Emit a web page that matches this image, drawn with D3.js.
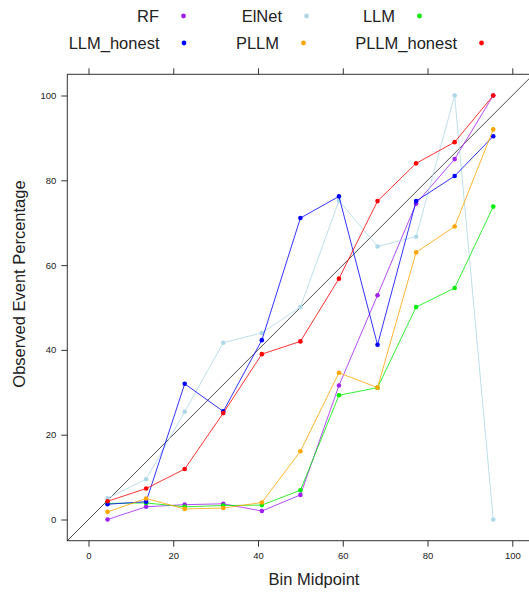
<!DOCTYPE html>
<html>
<head>
<meta charset="utf-8">
<script src="https://cdn.jsdelivr.net/npm/d3@7"></script>
<style>
  body { margin: 0; background: #fff; }
  svg { display: block; font-family: "Liberation Sans", Arial, sans-serif; }
</style>
</head>
<body>
<div id="plot"></div>
<script>
// bin midpoints (11 bins over 0..100)
var midpoints = [4.5, 13.6, 22.7, 31.8, 40.9, 50.0, 59.1, 68.2, 77.3, 86.4, 95.5];

var models = ["RF", "ElNet", "LLM", "LLM_honest", "PLLM", "PLLM_honest"];
var colors = ["#a020f0", "#add8e6", "#00ee00", "#0000ff", "#ffa500", "#ff0000"];

// observed event percentage per bin
var rf         = [0.0, 3.0, 3.5, 3.7, 2.0, 5.8, 31.6, 52.9, 74.5, 85.0, 100.0];
var elnet      = [5.0, 9.5, 25.4, 41.7, 44.0, 50.1, 75.2, 64.4, 66.7, 100.0, 0.0];
var llm        = [3.8, 3.9, 3.0, 3.3, 3.4, 6.9, 29.3, 31.1, 50.1, 54.6, 73.8];
var llm_honest = [3.6, 4.2, 32.0, 25.5, 42.3, 71.1, 76.2, 41.2, 75.1, 81.0, 90.4];
var pllm       = [1.8, 4.95, 2.5, 2.7, 4.0, 16.1, 34.6, 31.1, 63.0, 69.1, 92.0];
var pllm_honest= [4.3, 7.3, 11.9, 25.1, 39.0, 42.0, 56.8, 75.1, 84.0, 89.0, 100.0];

var series = [rf, elnet, llm, llm_honest, pllm, pllm_honest];

var ticks = [0, 20, 40, 60, 80, 100];

var width = 529;
var height = 594;

var svg = d3.select("#plot").append("svg")
    .attr("width", width)
    .attr("height", height);

// panel reaches past the right edge of the picture, as in the original
var x = d3.scaleLinear().domain([-5, 105]).range([67.3, 533.5]);
var y = d3.scaleLinear().domain([-5, 105]).range([540.7, 74.3]);

svg.append("defs").append("clipPath").attr("id", "panel")
    .append("rect")
    .attr("x", x(-5)).attr("y", y(105))
    .attr("width", x(105) - x(-5)).attr("height", y(-5) - y(105));

// axes
var xBottom = d3.axisBottom(x).tickValues(ticks).tickSize(6).tickPadding(6).tickSizeOuter(0);
var xTop = d3.axisTop(x).tickValues(ticks).tickSize(6).tickFormat("").tickSizeOuter(0);
var yLeft = d3.axisLeft(y).tickValues(ticks).tickSize(6).tickPadding(5).tickSizeOuter(0);

svg.append("g").attr("transform", "translate(0," + y(-5) + ")").call(xBottom);
svg.append("g").attr("transform", "translate(0," + y(105) + ")").call(xTop);
svg.append("g").attr("transform", "translate(" + x(-5) + ",0)").call(yLeft);

svg.selectAll(".domain").remove();
svg.selectAll(".tick line").attr("stroke", "#333");
svg.selectAll(".tick text").attr("fill", "#222").style("font-size", "9.5px");

svg.append("rect")
    .attr("x", x(-5)).attr("y", y(105))
    .attr("width", x(105) - x(-5)).attr("height", y(-5) - y(105))
    .attr("fill", "none")
    .attr("stroke", "#333")
    .attr("stroke-width", 1);

var panel = svg.append("g").attr("clip-path", "url(#panel)");

// reference line y = x
panel.append("line")
    .attr("x1", x(-5)).attr("y1", y(-5))
    .attr("x2", x(105)).attr("y2", y(105))
    .attr("stroke", "#222")
    .attr("stroke-width", 0.8);

var line = d3.line()
    .x(function(d, i){ return x(midpoints[i]); })
    .y(function(d){ return y(d); });

for (let s = 0; s < series.length; s++) {
    var g = panel.append("g");
    g.append("path")
        .datum(series[s])
        .attr("d", line)
        .attr("fill", "none")
        .attr("stroke", colors[s])
        .attr("stroke-opacity", 0.8)
        .attr("stroke-width", 1);
    g.selectAll("circle")
        .data(series[s]).enter().append("circle")
        .attr("cx", function(d, i){ return x(midpoints[i]); })
        .attr("cy", function(d){ return y(d); })
        .attr("r", 2.3)
        .attr("fill", colors[s]);
}

// axis titles
svg.append("text")
    .attr("x", 314).attr("y", 585)
    .attr("text-anchor", "middle")
    .style("font-size", "16.5px")
    .attr("fill", "#222")
    .text("Bin Midpoint");

svg.append("text")
    .attr("transform", "translate(25,284) rotate(-90)")
    .attr("text-anchor", "middle")
    .style("font-size", "16.5px")
    .attr("fill", "#222")
    .text("Observed Event Percentage");

// legend: two rows, three columns, text right of which sits the point
var keyTextEnd = [159, 282, 395, 159.5, 279, 457];
var keyRow = [16, 16, 16, 43, 43, 43];

var key = svg.selectAll(".key")
    .data(models).enter().append("g")
    .attr("class", "key");

key.append("text")
    .attr("x", function(d, i){ return keyTextEnd[i]; })
    .attr("y", function(d, i){ return keyRow[i]; })
    .attr("text-anchor", "end")
    .attr("dominant-baseline", "central")
    .style("font-size", "16.5px")
    .attr("fill", "#222")
    .text(function(d){ return d; });

key.append("circle")
    .attr("cx", function(d, i){ return keyTextEnd[i] + 24.5; })
    .attr("cy", function(d, i){ return keyRow[i]; })
    .attr("r", 2.4)
    .attr("fill", function(d, i){ return colors[i]; });
</script>
</body>
</html>
